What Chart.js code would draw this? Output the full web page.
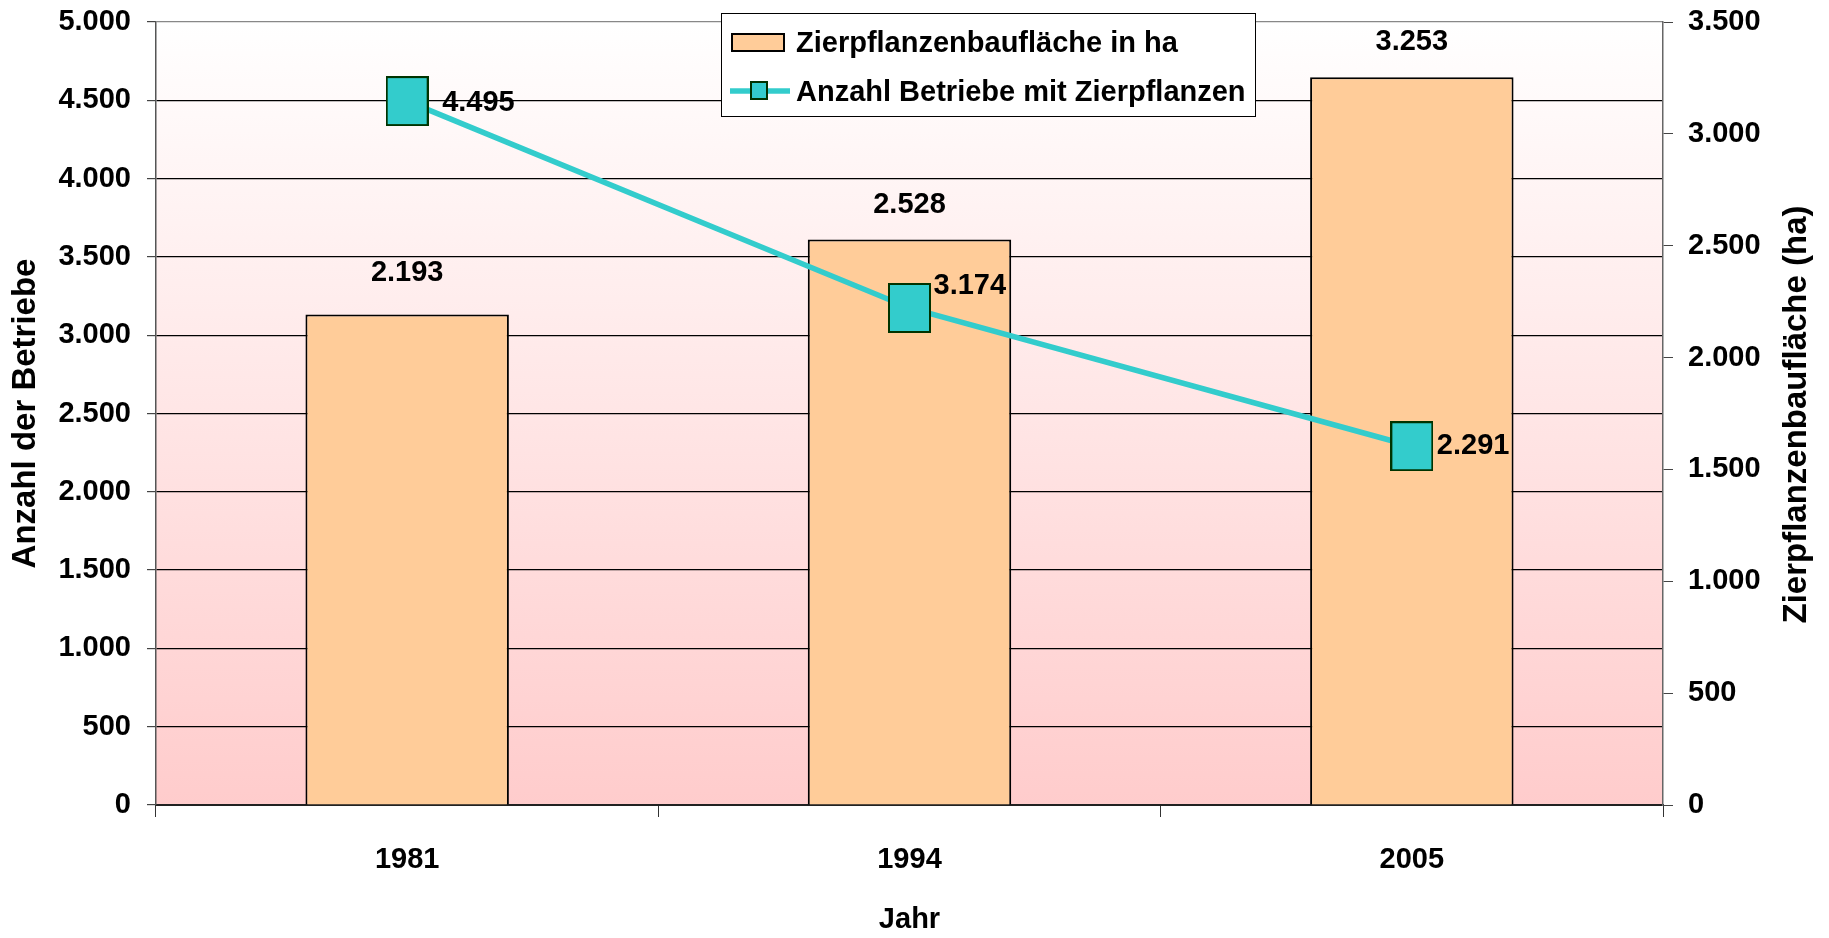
<!DOCTYPE html>
<html lang="de">
<head>
<meta charset="utf-8">
<title>Zierpflanzenbau</title>
<script src="https://cdn.jsdelivr.net/npm/chart.js@4.4.1/dist/chart.umd.min.js"></script>
<style>
  html, body { margin: 0; padding: 0; background: #fff; }
  #wrap { position: relative; width: 1829px; height: 938px; }
</style>
</head>
<body>
<div id="wrap"><canvas id="chart"></canvas></div>
<script>
// data
const years = ["1981", "1994", "2005"];
const flaecheHa = [2193, 2528, 3253];   // bars, right axis
const betriebe = [4495, 3174, 2291];    // line, left axis
const betriebeTicks = [0, 500, 1000, 1500, 2000, 2500, 3000, 3500, 4000, 4500, 5000];
const flaecheTicks = [0, 500, 1000, 1500, 2000, 2500, 3000, 3500];

const FONT = '"Liberation Sans", Arial, sans-serif';
const font29 = { family: FONT, size: 29, weight: "bold" };
const font33 = { family: FONT, size: 33, weight: "bold" };

// German thousands separator
const fmt = v => String(v).replace(/\B(?=(\d{3})+(?!\d))/g, ".");

// label nudges (px), like the hand-placed labels in the original
const barLabelDy = [-41, -34, -35];
const lineLabelDx = [35, 24, 25];
const lineLabelDy = [2, -22, 0];

function makeMarker(w, h, lw) {
    const c = document.createElement("canvas");
    c.width = w;
    c.height = h;
    const g = c.getContext("2d");
    g.fillStyle = "#33CCCC";
    g.fillRect(0, 0, w, h);
    g.strokeStyle = "#003300";
    g.lineWidth = lw;
    g.strokeRect(lw / 2, lw / 2, w - lw, h - lw);
    return c;
}
const marker = makeMarker(43, 50, 2);
const legendMarker = makeMarker(18, 19, 2);

// fixed axis sizes so the plot sits where the original's does
function fixWidth(w) {
    return s => { s.width = w; s.paddingTop = 0; s.paddingBottom = 0; };
}

const bgPlugin = {
    id: "plotBg",
    beforeDraw(chart) {
        const { ctx, chartArea: a } = chart;
        const grad = ctx.createLinearGradient(0, a.top, 0, a.bottom);
        grad.addColorStop(0, "#FFFFFF");
        grad.addColorStop(1, "#FFCCCC");
        ctx.save();
        ctx.fillStyle = grad;
        ctx.fillRect(a.left, a.top, a.right - a.left, a.bottom - a.top);
        ctx.restore();
    }
};

const labelPlugin = {
    id: "valueLabels",
    afterDatasetsDraw(chart) {
        const ctx = chart.ctx;
        ctx.save();
        ctx.font = "bold 29px " + FONT;
        ctx.fillStyle = "#000";
        ctx.textBaseline = "middle";
        chart.data.datasets.forEach((ds, i) => {
            const meta = chart.getDatasetMeta(i);
            meta.data.forEach((el, j) => {
                if (ds.type === "line") {
                    ctx.textAlign = "left";
                    ctx.fillText(fmt(ds.data[j]), el.x + lineLabelDx[j], el.y + lineLabelDy[j]);
                } else {
                    ctx.textAlign = "center";
                    ctx.fillText(fmt(ds.data[j]), el.x, el.y + barLabelDy[j]);
                }
            });
        });
        ctx.restore();
    },
    afterDraw(chart) {
        const ctx = chart.ctx;
        const a = chart.chartArea;
        ctx.save();
        // right axis title, reading bottom to top like the left one
        ctx.font = "bold 33px " + FONT;
        ctx.fillStyle = "#000";
        ctx.textAlign = "center";
        ctx.textBaseline = "middle";
        ctx.translate(1797, (a.top + a.bottom) / 2 + 1);
        ctx.rotate(-Math.PI / 2);
        ctx.fillText("Zierpflanzenbaufläche (ha)", 0, 0);
        ctx.restore();

        // legend box
        const ds = chart.data.datasets;
        ctx.save();
        ctx.fillStyle = "#fff";
        ctx.fillRect(721, 13, 534, 103);
        ctx.strokeStyle = "#000";
        ctx.lineWidth = 1;
        ctx.strokeRect(721.5, 13.5, 534, 103);
        ctx.fillStyle = "#FFCC99";
        ctx.fillRect(731, 33, 54, 19);
        ctx.lineWidth = 2;
        ctx.strokeRect(732, 34, 52, 17);
        ctx.strokeStyle = "#33CCCC";
        ctx.lineWidth = 5.5;
        ctx.beginPath();
        ctx.moveTo(730, 91);
        ctx.lineTo(790, 91);
        ctx.stroke();
        ctx.drawImage(legendMarker, 750, 81);
        ctx.font = "bold 29px " + FONT;
        ctx.fillStyle = "#000";
        ctx.textAlign = "left";
        ctx.textBaseline = "middle";
        ctx.fillText(ds[1].label, 796, 44);
        ctx.fillText(ds[0].label, 796, 93);
        ctx.restore();
    }
};

new Chart(document.getElementById("chart"), {
    type: "bar",
    data: {
        labels: years,
        datasets: [
            {
                type: "line",
                label: "Anzahl Betriebe mit Zierpflanzen",
                data: betriebe,
                yAxisID: "y",
                order: 0,
                borderColor: "#33CCCC",
                borderWidth: 5.5,
                tension: 0,
                pointStyle: marker,
                pointRadius: 22,
                pointHoverRadius: 22
            },
            {
                type: "bar",
                label: "Zierpflanzenbaufläche in ha",
                data: flaecheHa,
                yAxisID: "y1",
                order: 1,
                backgroundColor: "#FFCC99",
                borderColor: "#000",
                borderWidth: 2,
                barPercentage: 0.405,
                categoryPercentage: 1
            }
        ]
    },
    options: {
        responsive: true,
        maintainAspectRatio: false,
        animation: false,
        events: [],
        layout: { autoPadding: false, padding: { top: 22, left: 0, right: 0, bottom: 0 } },
        plugins: {
            legend: { display: false },
            tooltip: { enabled: false }
        },
        scales: {
            x: {
                offset: true,
                grid: { offset: true, drawOnChartArea: false, tickLength: 12, color: "#333" },
                border: { color: "#222", width: 2 },
                ticks: { font: font29, color: "#000", padding: 26, maxRotation: 0 },
                title: { display: true, text: "Jahr", font: font29, color: "#000", padding: { top: 0, bottom: 1 } },
                afterFit: s => { s.height = 133; s.paddingLeft = 0; s.paddingRight = 0; }
            },
            y: {
                position: "left",
                min: 0,
                max: 5000,
                afterBuildTicks: s => { s.ticks = betriebeTicks.map(v => ({ value: v })); },
                grid: {
                    color: c => (c.tick && c.tick.value === 5000 ? "#888" : "#000"),
                    lineWidth: 1.2,
                    tickLength: 9,
                    tickColor: "#444"
                },
                border: { color: "#555", width: 1.5 },
                ticks: { font: font29, color: "#000", padding: 16, callback: v => fmt(v) },
                title: { display: true, text: "Anzahl der Betriebe", font: font33, color: "#000", padding: { top: 6, bottom: 0 } },
                afterFit: fixWidth(156)
            },
            y1: {
                position: "right",
                min: 0,
                max: 3500,
                afterBuildTicks: s => { s.ticks = flaecheTicks.map(v => ({ value: v })); },
                grid: { drawOnChartArea: false, tickLength: 10, tickColor: "#444" },
                border: { color: "#666", width: 1.5 },
                ticks: { font: font29, color: "#000", padding: 15, callback: v => fmt(v) },
                afterFit: fixWidth(166)
            }
        }
    },
    plugins: [bgPlugin, labelPlugin]
});
</script>
</body>
</html>
